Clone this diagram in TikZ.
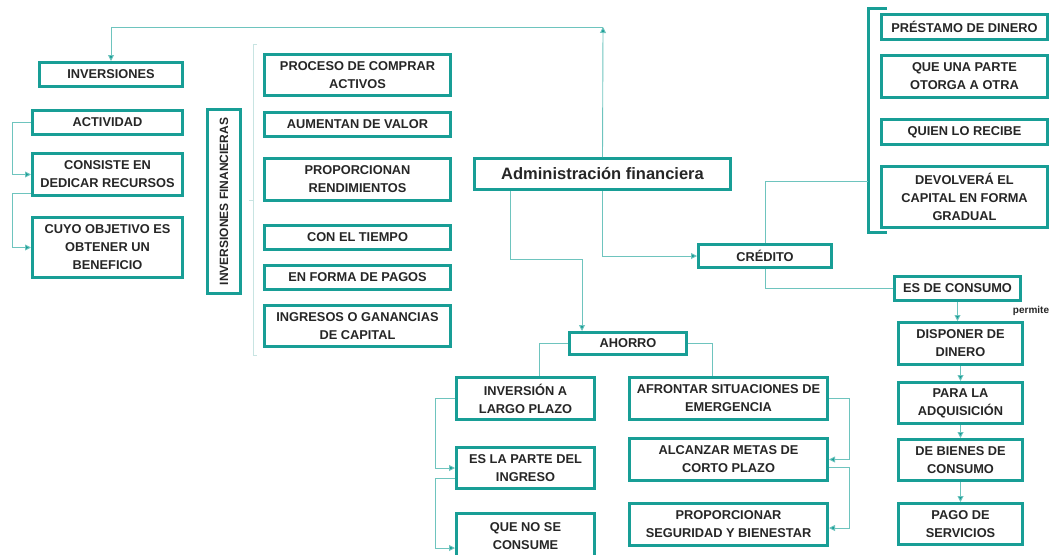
\documentclass[tikz,border=0pt]{standalone}
\usepackage{fontspec}
\setmainfont{Liberation Sans}
\usetikzlibrary{positioning,calc,arrows.meta}
\definecolor{boxteal}{RGB}{24,158,150}
\definecolor{linkteal}{RGB}{110,196,190}
\definecolor{paleteal}{RGB}{200,228,226}
\definecolor{boxtext}{RGB}{38,38,38}
\tikzset{box/.style={draw=boxteal,line width=3pt,fill=white,align=center,inner sep=2pt,
    text=boxtext,font=\fontsize{12.8}{18}\selectfont\bfseries},
  link/.style={draw=linkteal,line width=0.9pt},
  tip/.style={-{Triangle[length=6pt,width=6pt,fill=boxteal]}},
}

\begin{document}
\begin{tikzpicture}[x=1pt,y=-1pt]
\useasboundingbox (0,0) rectangle (1051,554);

% left block
\node[box,minimum width=143pt,minimum height=24pt] (inv) at (111,74.5) {INVERSIONES};
\node[box,minimum width=150pt,minimum height=24pt] (act) at (107.5,122.5) {ACTIVIDAD};
\node[box,minimum width=150pt,minimum height=42pt] (cons) at (107.5,174.5) {CONSISTE EN\\DEDICAR RECURSOS};
\node[box,minimum width=150pt,minimum height=60pt] (cuyo) at (107.5,247.5) {CUYO OBJETIVO ES\\OBTENER UN\\BENEFICIO};
\node[box,rotate=90,minimum width=184pt,minimum height=33pt,font=\fontsize{12}{14}\selectfont\bfseries] (invfin) at (224,201.5) {INVERSIONES FINANCIERAS};

% middle column
\node[box,minimum width=186pt,minimum height=41pt] (proc) at (357.5,75) {PROCESO DE COMPRAR\\ACTIVOS};
\node[box,minimum width=186pt,minimum height=24pt] (aum) at (357.5,124.5) {AUMENTAN DE VALOR};
\node[box,minimum width=186pt,minimum height=42pt] (rend) at (357.5,179.5) {PROPORCIONAN\\RENDIMIENTOS};
\node[box,minimum width=186pt,minimum height=24pt] (tiempo) at (357.5,237.5) {CON EL TIEMPO};
\node[box,minimum width=186pt,minimum height=24pt] (pagos) at (357.5,277.5) {EN FORMA DE PAGOS};
\node[box,minimum width=186pt,minimum height=41pt] (ingr) at (357.5,326) {INGRESOS O GANANCIAS\\DE CAPITAL};
\draw[draw=paleteal,line width=1pt] (257,44) -- (253,44) -- (253,355) -- (257,355);
\draw[draw=paleteal,line width=1pt] (253,200) -- (249,200);

% centre
\node[box,minimum width=256pt,minimum height=31pt,font=\fontsize{16.5}{20}\selectfont\bfseries] (adm) at (602.5,174) {Administración financiera};
\node[box,minimum width=133pt,minimum height=23pt] (cred) at (765,256) {CRÉDITO};

% credit definition
\node[box,minimum width=166pt,minimum height=25pt] (prest) at (964.5,27) {PRÉSTAMO DE DINERO};
\node[box,minimum width=166pt,minimum height=42pt] (parte) at (964.5,76.5) {QUE UNA PARTE\\OTORGA A OTRA};
\node[box,minimum width=166pt,minimum height=25pt] (quien) at (964.5,132) {QUIEN LO RECIBE};
\node[box,minimum width=166pt,minimum height=61pt] (devol) at (964.5,197) {DEVOLVERÁ EL\\CAPITAL EN FORMA\\GRADUAL};
\coordinate (brk) at (868,181);
\draw[draw=boxteal,line width=3pt] (887,8) -- (868,8) -- (868,232) -- (887,232);

% consumer credit
\node[box,minimum width=126pt,minimum height=24pt] (consumo) at (957.5,288.5) {ES DE CONSUMO};
\node[text=boxtext,font=\fontsize{10}{12}\selectfont\bfseries] (permite) at (1031,311) {permite};
\node[box,minimum width=124pt,minimum height=42pt] (disp) at (960.5,343.5) {DISPONER DE\\DINERO};
\node[box,minimum width=124pt,minimum height=41pt] (adq) at (960.5,403) {PARA LA\\ADQUISICIÓN};
\node[box,minimum width=124pt,minimum height=41pt] (bienes) at (960.5,460) {DE BIENES DE\\CONSUMO};
\node[box,minimum width=124pt,minimum height=41pt] (pago) at (960.5,524) {PAGO DE\\SERVICIOS};

% savings
\node[box,minimum width=117pt,minimum height=22pt] (ahorro) at (628,343.5) {AHORRO};
\node[box,minimum width=138pt,minimum height=42pt] (largo) at (525.5,398.5) {INVERSIÓN A\\LARGO PLAZO};
\node[box,minimum width=138pt,minimum height=41pt] (parteing) at (525.5,468) {ES LA PARTE DEL\\INGRESO};
\node[box,minimum width=138pt,minimum height=45pt] (nocons) at (525.5,536) {QUE NO SE\\CONSUME};
\node[box,minimum width=198pt,minimum height=42pt] (afr) at (728.5,398.5) {AFRONTAR SITUACIONES DE\\EMERGENCIA};
\node[box,minimum width=198pt,minimum height=42pt] (alc) at (728.5,459.5) {ALCANZAR METAS DE\\CORTO PLAZO};
\node[box,minimum width=198pt,minimum height=42pt] (seg) at (728.5,524.5) {PROPORCIONAR\\SEGURIDAD Y BIENESTAR};

% connectors
\coordinate (top) at (603,27);
\draw[link,tip] (adm.north) -- (top);
\draw[link,tip] (top) -| (inv.north);
\draw[link,tip] ([xshift=-92.5pt]adm.south) -- ++(0,68) -| ([xshift=-46pt]ahorro.north);
\draw[link,tip] (adm.south) |- (cred.west);
\draw[link] (cred.north) |- (brk);
\draw[link] (cred.south) |- (consumo.west);
\draw[link,tip] (consumo.south) -- (consumo.south |- disp.north);
\draw[link,tip] (disp.south) -- (adq.north);
\draw[link,tip] (adq.south) -- (bienes.north);
\draw[link,tip] (bienes.south) -- (pago.north);
\draw[link,tip] (act.west) -- ++(-19,0) |- (cons.west);
\draw[link,tip] ($(cons.west)+(0,18.5)$) -- ++(-19,0) |- (cuyo.west);
\draw[link] (ahorro.west) -| ([xshift=13.5pt]largo.north);
\draw[link] (ahorro.east) -| ([xshift=-16.5pt]afr.north);
\draw[link,tip] (largo.west) -- ++(-20,0) |- (parteing.west);
\draw[link,tip] ($(parteing.west)+(0,10)$) -- ++(-20,0) |- ($(nocons.west)+(0,12)$);
\draw[link,tip] (afr.east) -- ++(20,0) |- (alc.east);
\draw[link,tip] ($(alc.east)+(0,7.5)$) -- ++(20,0) |- ($(seg.east)+(0,3.5)$);
\end{tikzpicture}
\end{document}
